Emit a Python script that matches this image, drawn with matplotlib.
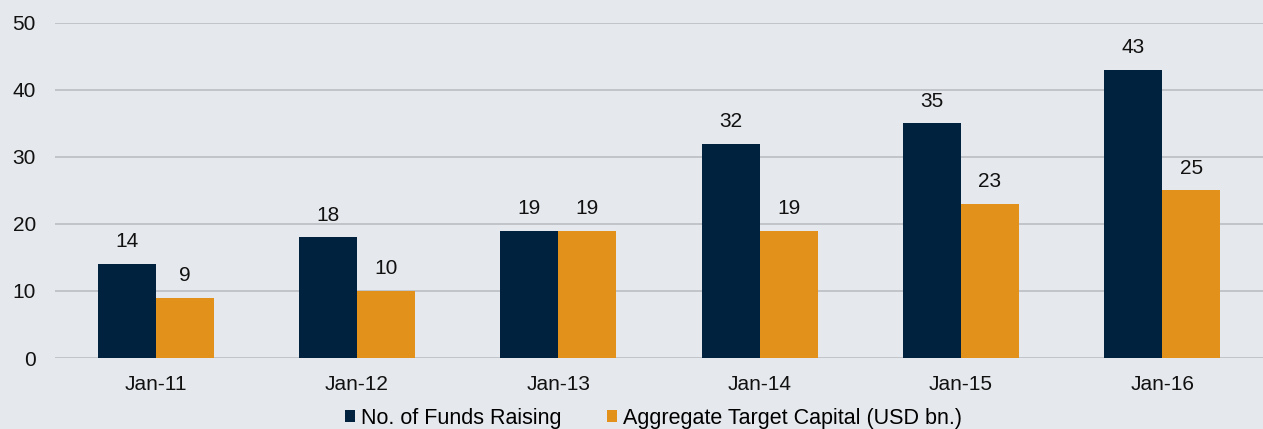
import matplotlib.pyplot as plt
import numpy as np

plt.rcParams['font.family'] = ['Liberation Sans', 'DejaVu Sans']

categories = ['Jan-11', 'Jan-12', 'Jan-13', 'Jan-14', 'Jan-15', 'Jan-16']
funds = [14, 18, 19, 32, 35, 43]
capital = [9, 10, 19, 19, 23, 25]

navy = '#00223F'
orange = '#E2921B'
bg = '#E5E8EC'

fig = plt.figure(figsize=(12.63, 4.29), dpi=100, facecolor=bg)
ax = fig.add_axes([0.0435, 0.1655, 0.9565, 0.781])
ax.set_facecolor(bg)

x = np.arange(len(categories))
w = 0.288
b1 = ax.bar(x - w/2, funds, w, color=navy, label='No. of Funds Raising')
b2 = ax.bar(x + w/2, capital, w, color=orange, label='Aggregate Target Capital (USD bn.)')

for bars, vals in [(b1, funds), (b2, capital)]:
    for r, v in zip(bars, vals):
        ax.text(r.get_x() + r.get_width()/2, v + 1.9, str(v), ha='center', va='bottom',
                fontsize=15, color='#111111')

ax.set_xlim(-0.5, len(categories) - 0.5)
ax.set_ylim(0, 50)
ax.set_yticks(range(0, 51, 10))
ax.set_xticks(x)
ax.set_xticklabels(categories)
ax.yaxis.grid(True, color='#BEC2C7', linewidth=1.3)
ax.set_axisbelow(True)
for s in ax.spines.values():
    s.set_visible(False)
ax.tick_params(length=0, labelsize=15, colors='#111111')
ax.tick_params(axis='x', pad=12)
ax.tick_params(axis='y', pad=13.7)

fig.legend(loc='lower center', bbox_to_anchor=(0.5174, -0.045), ncol=2, frameon=False,
           fontsize=15.5, handlelength=0.47, handleheight=0.47,
           handletextpad=0.28, columnspacing=2.1)

fig.savefig('out.png', dpi=100, facecolor=bg)
